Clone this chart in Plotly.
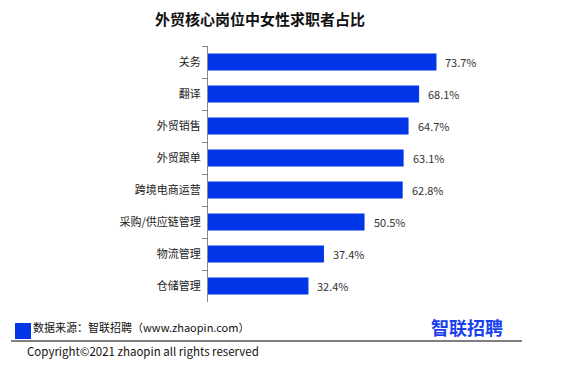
import plotly.graph_objects as go

categories = ["关务", "翻译", "外贸销售", "外贸跟单", "跨境电商运营", "采购/供应链管理", "物流管理", "仓储管理"]
values = [73.7, 68.1, 64.7, 63.1, 62.8, 50.5, 37.4, 32.4]
labels = [f"{v:.1f}%" for v in values]

W, H = 565, 368
L, R, T, B = 208, 47, 46, 66
FONT = "Microsoft YaHei, Noto Sans CJK SC, sans-serif"

fig = go.Figure(go.Bar(
    y=categories, x=values, orientation="h",
    marker=dict(color="#0036E8", line=dict(width=0)),
    width=0.53, hoverinfo="x+y",
))

for c, v, t in zip(categories, values, labels):
    fig.add_annotation(x=v, y=c, text=t, xanchor="left", yanchor="middle", xshift=7,
                       showarrow=False, font=dict(size=11, color="#333333", family=FONT))

def px(x):
    return (x - L) / (W - L - R)

def py(y):
    return (H - B - y) / (H - T - B)

fig.update_layout(
    width=W, height=H,
    margin=dict(l=L, r=R, t=T, b=B),
    paper_bgcolor="white", plot_bgcolor="white",
    showlegend=False,
    font=dict(family=FONT),
    title=dict(text="<b>外贸核心岗位中女性求职者占比</b>", x=260 / W, xanchor="center",
               y=1 - 20 / H, yanchor="middle",
               font=dict(size=15, color="#111111", family=FONT)),
    xaxis=dict(range=[0, 100], visible=False, fixedrange=True),
    yaxis=dict(autorange="reversed", showline=True, linecolor="#888888", linewidth=1,
               ticks="outside", tickson="boundaries", ticklen=5, tickcolor="#888888",
               tickfont=dict(size=11, color="#222222", family=FONT),
               ticklabelstandoff=4, showgrid=False, fixedrange=True),
    shapes=[
        dict(type="rect", xref="paper", yref="paper",
             x0=px(15), x1=px(31), y0=py(339), y1=py(323),
             fillcolor="#0036E8", line=dict(width=0)),
        dict(type="line", xref="paper", yref="paper",
             x0=px(11), x1=px(522), y0=py(341), y1=py(341),
             line=dict(color="#000000", width=1.2)),
    ],
)

fig.add_annotation(text="数据来源：智联招聘（www.zhaopin.com）", xref="paper", yref="paper",
                   x=px(31), y=py(327), xanchor="left", yanchor="middle", showarrow=False,
                   font=dict(size=11, color="#111111", family=FONT))
fig.add_annotation(text="<b>智联招聘</b>", xref="paper", yref="paper",
                   x=px(467), y=py(327), xanchor="center", yanchor="middle", showarrow=False,
                   font=dict(size=18, color="#1a3ff0", family=FONT))
fig.add_annotation(text="Copyright©2021 zhaopin all rights reserved", xref="paper", yref="paper",
                   x=px(25), y=py(351), xanchor="left", yanchor="middle", showarrow=False,
                   font=dict(size=11.5, color="#111111", family=FONT))

fig.write_html("out.html")
